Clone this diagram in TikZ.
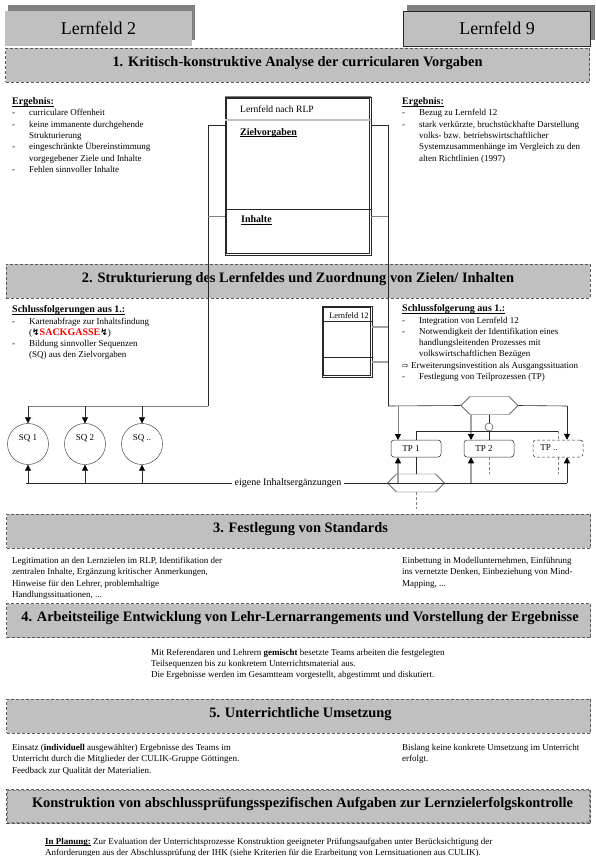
\documentclass[tikz,border=0pt]{standalone}
\usepackage{fontspec}
\setmainfont{Liberation Serif}
\newfontfamily\symfont{DejaVu Sans}
\usepackage{xcolor}
\definecolor{lfgray}{RGB}{192,192,192}
\definecolor{lfshadow}{RGB}{128,128,128}
\definecolor{lfdash}{RGB}{90,90,90}
\definecolor{lfink}{RGB}{40,40,40}
\definecolor{lfred}{RGB}{255,0,0}
\usetikzlibrary{arrows.meta,positioning,calc,shapes.symbols}
\newcommand{\ditem}[1]{\makebox[17pt][l]{-}#1}
\newcommand{\dcont}[1]{\hspace*{17pt}#1}
\newcommand{\lbolt}{{\symfont\bfseries\fontsize{9}{9}\selectfont\char"21AF}}
\newcommand{\ruled}[1]{\setbox0\hbox{#1}\rlap{\rule[-1.6pt]{\wd0}{0.7pt}}\box0\relax}
\newcommand{\bighead}[1]{{\fontsize{10}{11.3}\selectfont\ruled{\textbf{#1}}}}
\tikzset{
  tabhead/.style={fill=lfgray, font=\fontsize{18}{20}\selectfont, inner sep=0pt,
                  minimum width=187pt, minimum height=35pt},
  stephead/.style={draw=lfdash, densely dashed, fill=lfgray, inner sep=0pt, font=\fontsize{14.4}{15}\selectfont\bfseries,
                   text height=9pt, text depth=6.5pt, minimum width=584pt, minimum height=34pt},
  bodytext/.style={anchor=north west, inner sep=0pt, align=left, font=\fontsize{9}{11.3}\selectfont},
  sqnode/.style={draw=lfink, circle, minimum size=41pt, inner sep=0pt},
  tpnode/.style={draw=lfink, line width=0.5pt, rounded corners=3pt, fill=white, minimum width=50pt, minimum height=17pt, inner sep=0pt},
  hexnode/.style={draw=lfink, signal, signal to=west and east, signal pointer angle=90, fill=white,
                  minimum width=57pt, minimum height=18pt, inner sep=0pt},
  lfbox/.style={draw=lfink, line width=0.8pt, fill=white, inner sep=0pt},
  lfinner/.style={draw=lfink, line width=0.5pt},
  conn/.style={draw=lfink, line width=0.6pt},
  gconn/.style={draw=lfshadow, line width=0.8pt},
  lconn/.style={draw=lfgray!85!black, line width=1.2pt},
  dconn/.style={draw=lfshadow, densely dashed, line width=0.7pt},
  tip/.style={-{Triangle[width=6pt,length=6pt,black]}},
}
\begin{document}
\begin{tikzpicture}[x=1pt,y=-1pt,font=\fontsize{9}{11.3}\selectfont]
\useasboundingbox (0,0) rectangle (596,856);
% Tabs with shadow
\fill[lfshadow] (8,5) rectangle (195,40);
\fill[lfshadow] (407,5) rectangle (595,40);
\node[tabhead] (lf2) at (98.5,28.5) {Lernfeld 2};
\node[tabhead, draw=lfink] (lf9) at (497,28.5) {Lernfeld 9};
% Step headings
\node[stephead] (st1) at (297.5,65.5) {1. Kritisch-konstruktive Analyse der curricularen Vorgaben};
\node[stephead] (st2) at (298,281) {2. Strukturierung des Lernfeldes und Zuordnung von Zielen/ Inhalten};
\node[stephead] (st3) at (298.5,531) {\hspace*{4pt}3. Festlegung von Standards};
\node[stephead] (st4) at (298.5,620.5) {\hspace*{3pt}4. Arbeitsteilige Entwicklung von Lehr-Lernarrangements und Vorstellung der Ergebnisse};
\node[stephead] (st5) at (298.5,716) {\hspace*{4pt}5. Unterrichtliche Umsetzung};
\node[stephead] (st6) at (298.5,806.5) {\hspace*{8pt}Konstruktion von abschlussprüfungsspezifischen Aufgaben zur Lernzielerfolgskontrolle};
\draw[lfshadow, densely dashed, line width=0.4pt] ($(st6.north west)+(1.2,1.2)$) rectangle ($(st6.south east)+(-1.2,-1.2)$);
% Analysis texts
\node[bodytext] (erg1) at (12,97.5) {\bighead{Ergebnis:}\\
  \ditem{curriculare Offenheit}\\
  \ditem{keine immanente durchgehende}\\
  \dcont{Strukturierung}\\
  \ditem{eingeschränkte Übereinstimmung}\\
  \dcont{vorgegebener Ziele und Inhalte}\\
  \ditem{Fehlen sinnvoller Inhalte}};
\node[bodytext] (erg2) at (402,97.5) {\bighead{Ergebnis:}\\
  \ditem{Bezug zu Lernfeld 12}\\
  \ditem{stark verkürzte, bruchstückhafte Darstellung}\\
  \dcont{volks- bzw. betriebswirtschaftlicher}\\
  \dcont{Systemzusammenhänge im Vergleich zu  den}\\
  \dcont{alten Richtlinien (1997)}};
% Lernfeld box
\node[lfbox, minimum width=146pt, minimum height=158pt] (rlp) at (298,176) {};
\draw[lfinner] ($(rlp.north west)+(1.7,1.7)$) rectangle ($(rlp.south east)+(-1.7,-1.7)$);
\draw[lfshadow, line width=1.6pt] (rlp.north west) -- (rlp.north east);
\draw[lfgray, line width=1.2pt] (rlp.west |- 0,120) -- (rlp.east |- 0,120);
\draw[lfink] (rlp.west |- 0,209) -- (rlp.east |- 0,209);
\node[anchor=west, inner sep=0pt, font=\fontsize{9.6}{10}\selectfont] (rlphead) at (240,109) {Lernfeld nach RLP};
\node[anchor=west, inner sep=0pt] (rlpziel) at (240,133) {\bighead{Zielvorgaben}};
\node[anchor=west, inner sep=0pt] (rlpinh) at (241,220) {\bighead{Inhalte}};
% Lernfeld 12 box
\node[lfbox, minimum width=50pt, minimum height=71pt] (lf12) at (347,341.5) {};
\draw[lfinner] ($(lf12.north west)+(1.7,1.7)$) rectangle ($(lf12.south east)+(-1.7,-1.7)$);
\draw[lfink] (lf12.west |- 0,321) -- (lf12.east |- 0,321);
\draw[lfink] (lf12.west |- 0,357) -- (lf12.east |- 0,357);
\node[inner sep=0pt, font=\fontsize{8.4}{9}\selectfont] (lf12head) at (349,315.5) {Lernfeld 12};
% Conclusions
\node[bodytext] (sf1) at (12,305.5) {\bighead{Schlussfolgerungen aus 1.:}\\
  \ditem{Kartenabfrage zur Inhaltsfindung}\\
  \dcont{(\lbolt{\fontsize{10}{11.3}\selectfont\textbf{\textcolor{lfred}{SACKGASSE}}}\lbolt)}\\
  \ditem{Bildung sinnvoller Sequenzen}\\
  \dcont{(SQ) aus den Zielvorgaben}};
\node[bodytext] (sf2) at (402,304.5) {\bighead{Schlussfolgerung aus 1.:}\\
  \ditem{Integration von Lernfeld 12}\\
  \ditem{Notwendigkeit der Identifikation eines}\\
  \dcont{handlungsleitenden Prozesses mit}\\
  \dcont{volkswirtschaftlichen Bezügen}\\
  {\symfont\fontsize{8}{8}\selectfont\char"21E8} Erweiterungsinvestition als Ausgangssituation\\
  \ditem{Festlegung von Teilprozessen (TP)}};
% Sequence and process nodes
\foreach \x/\nm/\lbl in {28/sq1/SQ 1, 85/sq2/SQ 2, 142/sq3/SQ ..}{
  \node[sqnode] (\nm) at (\x,444) {};
  \node[inner sep=0pt] at (\x,438) {\lbl};
}
\node[tpnode] (tp1) at (416,448.5) {\hspace*{-10pt}TP 1};
\node[tpnode] (tp2) at (489,448.5) {\hspace*{-10pt}TP 2};
\node[tpnode, densely dashed] (tp3) at (558,448.5) {\hspace*{-18pt}\raisebox{1pt}{TP ..}};
\node[hexnode] (hextop) at (489.5,405.5) {};
\node[hexnode] (hexbot) at (416,483) {};
\node[draw=lfink, circle, minimum size=8pt, inner sep=0pt] (knot) at (489,427) {};
\node[inner sep=0pt, inner xsep=2pt, font=\fontsize{10}{11}\selectfont] (own) at (288,483) {eigene Inhaltsergänzungen};
% Named junctions
\coordinate (busL) at (208,406);
\coordinate (busR) at (388,406);
\coordinate (botL) at (26,483);
\coordinate (botR) at (567,483);
\coordinate (topR) at (567,406);
\coordinate (knotbar) at (489,431);
\coordinate (tp1in) at (398,440);
\coordinate (tp2in) at (471,440);
% Connectors to the upper bus
\draw[conn] (rlp.west |- 0,125) -| (busL);
\draw[gconn] (rlp.west |- 0,216) -- (busL |- 0,216);
\draw[conn] (rlp.east |- 0,125) -| (busR);
\draw[gconn] (rlp.east |- 0,216) -- (busR |- 0,216);
\draw[lconn] (lf12.east |- 0,327) -- (busR |- 0,327);
\draw[lconn] (lf12.east |- 0,362) -- (busR |- 0,362);
\draw[conn] (busR) -- (hextop.west);
\draw[gconn] (busL) -- (sq1.north |- busL);
% Arrows to sequences
\foreach \nm in {sq1,sq2,sq3}{
  \draw[conn,tip] (\nm.north |- busL) -- (\nm.north);
  \draw[conn,tip] (\nm.south |- botL) -- (\nm.south);
}
\draw[conn] (botL) -- (own.west);
\draw[conn] (own.east) -- (hexbot.west);
\draw[conn] (hexbot.west) -- (botR);
% Arrows to processes
\draw[gconn,tip] (tp1in |- busR) -- (tp1in);
\draw[lconn,tip] (tp2in |- hextop.south) -- (tp2in);
\draw[conn] (hextop.east) -- (topR);
\draw[conn,tip] (topR) -- (topR |- tp3.north);
\draw[lconn,tip] (tp1in |- botL) -- (tp1in |- tp1.south);
\draw[lconn,tip] (tp2in |- botL) -- (tp2in |- tp2.south);
\draw[conn,tip] (botR) -- (botR |- tp3.south);
% Links between processes
\draw[conn] (hextop.south -| knot) -- (knot.north);
\draw[conn] (knot.south) -- (tp2.north);
\draw[conn] (tp1.north) -- (tp1.north |- knotbar) -- (tp3.north |- knotbar);
\draw[dconn] (tp3.north |- knotbar) -- (tp3.north);
\draw[conn] (tp1.south) -- (hexbot.north);
\draw[dconn] (tp2.south) -- ++(0,17);
\draw[dconn] (tp3.south) -- ++(0,17);
\draw[dconn] (hexbot.south) -- ++(0,17);
% Standards
\node[bodytext] (std1) at (12,557) {Legitimation an den Lernzielen im RLP, Identifikation der\\
  zentralen Inhalte, Ergänzung kritischer Anmerkungen,\\
  Hinweise für den Lehrer, problemhaltige\\
  Handlungssituationen, ...};
\node[bodytext] (std2) at (402,557) {Einbettung in Modellunternehmen, Einführung\\
  ins vernetzte Denken, Einbeziehung von Mind-\\
  Mapping, ...};
% Team work
\node[bodytext] (team) at (151,648.5) {Mit Referendaren und Lehrern \textbf{gemischt} besetzte Teams arbeiten die festgelegten\\
  Teilsequenzen bis zu konkretem Unterrichtsmaterial aus.\\
  Die Ergebnisse werden im Gesamtteam vorgestellt, abgestimmt und diskutiert.};
% Teaching
\node[bodytext] (use1) at (12,744) {Einsatz (\textbf{individuell} ausgewählter) Ergebnisse des Teams im\\
  Unterricht durch die Mitglieder der CULIK-Gruppe Göttingen.\\
  Feedback zur Qualität der Materialien.};
\node[bodytext] (use2) at (402,744) {Bislang keine konkrete Umsetzung im Unterricht\\
  erfolgt.};
% Planned
\node[bodytext] (plan) at (45,837.5) {\ruled{\textbf{In Planung:}} Zur Evaluation der Unterrichtsprozesse Konstruktion geeigneter Prüfungsaufgaben unter Berücksichtigung der\\
  Anforderungen aus der Abschlussprüfung der IHK (siehe Kriterien für die Erarbeitung von Lernsituationen aus CULIK).};
\end{tikzpicture}
\end{document}
